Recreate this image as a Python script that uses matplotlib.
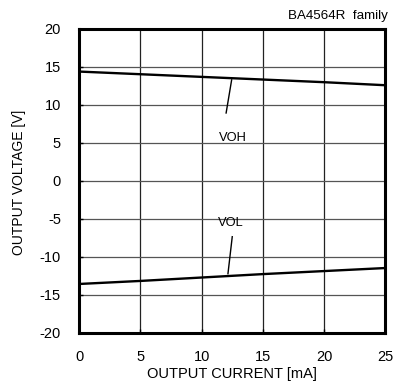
import matplotlib
matplotlib.use("Agg")
import matplotlib.pyplot as plt
import numpy as np

plt.rcParams["font.family"] = ["Liberation Sans", "DejaVu Sans"]
plt.rcParams["axes.unicode_minus"] = False

# output current [mA] and measured output swing [V]
current = [0, 5, 10, 15, 20, 25]
voh = [14.4, 14.05, 13.7, 13.35, 13.0, 12.6]
vol = [-13.55, -13.15, -12.7, -12.25, -11.85, -11.45]

W, H = 393, 382
fig = plt.figure(figsize=(W / 100, H / 100), dpi=100)
ax = fig.add_axes([79 / W, 1 - 333 / H, 306.5 / W, 304 / H])

ax.plot(current, voh, color="black", lw=1.7)
ax.plot(current, vol, color="black", lw=1.7)

ax.set_xlim(0, 25)
ax.set_ylim(-20, 20)
ax.set_xticks(np.arange(0, 26, 5))
ax.set_yticks(np.arange(-20, 21, 5))
ax.xaxis.grid(True, color="#222222", lw=0.9)
ax.yaxis.grid(True, color="#555555", lw=0.9)
ax.tick_params(direction="in", length=3, width=1, labelsize=10.5,
               top=False, right=False)
ax.tick_params(axis="x", pad=12)
ax.tick_params(axis="y", pad=13)
for s in ax.spines.values():
    s.set_linewidth(2.2)

# curve labels with leader lines
ax.plot([12.45, 12.0], [13.3, 8.95], color="black", lw=1)
ax.text(12.54, 5.72, "VOH", fontsize=9.3, ha="center", va="center")
ax.plot([12.5, 12.15], [-7.33, -12.2], color="black", lw=1)
ax.text(12.42, -5.57, "VOL", fontsize=9.3, ha="center", va="center")

fig.text(232 / W, 1 / H, "OUTPUT CURRENT [mA]", fontsize=10.5,
         ha="center", va="bottom")
fig.text(19 / W, 1 - 182 / H, "OUTPUT VOLTAGE [V]", fontsize=10,
         rotation=90, ha="center", va="center")
fig.text(388 / W, 1 - 19 / H, "BA4564R  family", fontsize=9.6,
         ha="right", va="baseline")

fig.savefig("out.png", dpi=100)
